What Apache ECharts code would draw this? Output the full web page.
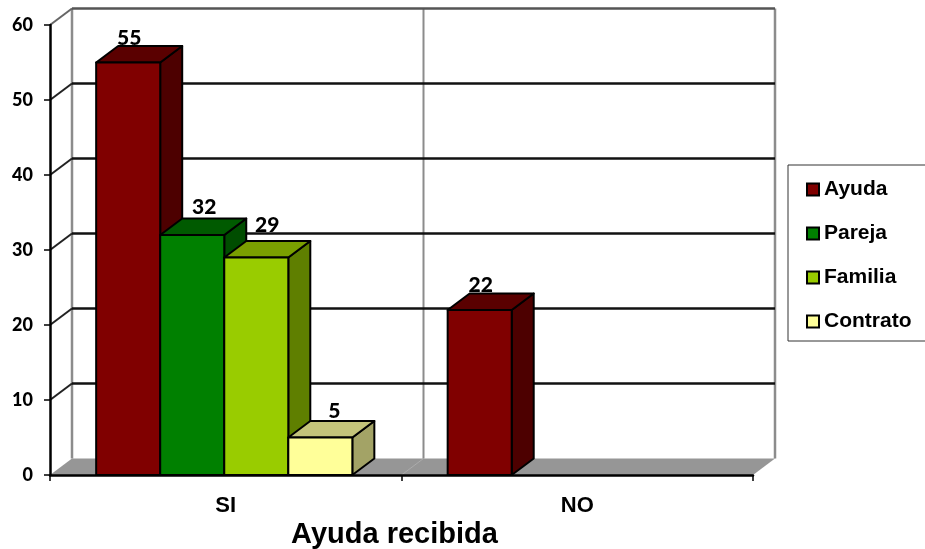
<!DOCTYPE html>
<html>
<head>
<meta charset="utf-8">
<style>html,body{margin:0;padding:0;background:#fff}#c{width:925px;height:549px}</style>
<script src="https://cdn.jsdelivr.net/npm/echarts@6/dist/echarts.min.js"></script>
</head>
<body>
<div id="c"></div>
<script>
const categories = ['SI', 'NO'];
const yTicks = [0, 10, 20, 30, 40, 50, 60];
const ayuda = [55, 22];
const pareja = [32, null];
const familia = [29, null];
const contrato = [5, null];
const axisTitle = 'Ayuda recibida';

const DX = 22, DY = -16.5;
const BAR_FRACTION = 0.1822;
const sans = '"Liberation Sans", Arial, sans-serif';
const labelFont = '900 21px Lato, sans-serif';

const chart = echarts.init(document.getElementById('c'), null, {renderer: 'canvas'});

function pointsOf(values) {
  return values.map((v, i) => v === null ? null : [i, v]).filter(Boolean);
}

function barSeries(name, values, index, front, top, side, labelDx, labelDy) {
  return {
    name, type: 'custom', coordinateSystem: 'cartesian2d', z: 3,
    itemStyle: {color: front},
    encode: {x: 0, y: 1},
    data: pointsOf(values),
    renderItem(params, api) {
      const band = api.size([1, 0])[0];
      const w = band * BAR_FRACTION;
      const p = api.coord([api.value(0), api.value(1)]);
      const b = api.coord([api.value(0), 0]);
      const x0 = p[0] + (index - 2) * w - 1.5, x1 = x0 + w;
      const yt = p[1], yb = b[1];
      const line = {stroke: '#000', lineWidth: 2, lineJoin: 'round'};
      const poly = (pts, fill) => ({type: 'polygon', shape: {points: pts}, style: {fill, ...line}});
      return {
        type: 'group',
        children: [
          poly([[x1, yb], [x1 + DX, yb + DY], [x1 + DX, yt + DY], [x1, yt]], side),
          poly([[x0, yt], [x0 + DX, yt + DY], [x1 + DX, yt + DY], [x1, yt]], top),
          poly([[x0, yt], [x1, yt], [x1, yb], [x0, yb]], front),
          {type: 'text', style: {
            text: String(api.value(1)), x: (x0 + x1) / 2 + labelDx, y: yt + DY + labelDy,
            align: 'center', verticalAlign: 'middle', font: labelFont, fill: '#000'
          }}
        ]
      };
    }
  };
}

const frameSeries = {
  name: 'marco', type: 'custom', coordinateSystem: 'cartesian2d', z: 1, silent: true,
  encode: {x: 0, y: 1},
  data: yTicks.map(t => [0, t]),
  renderItem(params, api) {
    const band = api.size([1, 0])[0];
    const v = api.value(1);
    const p = api.coord([0, v]);
    const left = p[0] - band / 2, mid = p[0] + band / 2, right = p[0] + 1.5 * band;
    const y = p[1];
    const seg = (x1, y1, x2, y2, stroke, lineWidth) =>
      ({type: 'line', shape: {x1, y1, x2, y2}, style: {stroke, lineWidth}});
    const kids = [];
    if (v === 0) {
      const topY = api.coord([0, yTicks[yTicks.length - 1]])[1] + DY;
      kids.push({type: 'polygon', shape: {points: [[left, y], [left + DX, y + DY], [right + DX, y + DY], [right, y]]},
        style: {fill: '#969696'}});
      kids.push(seg(mid, y, mid + DX, y + DY, '#ababab', 1));
      kids.push(seg(left + DX, topY, left + DX, y + DY, '#8c8c8c', 2.5));
      kids.push(seg(mid + DX, topY, mid + DX, y + DY, '#8c8c8c', 2));
      kids.push(seg(right + DX, topY, right + DX, y + DY, '#8c8c8c', 2.5));
    } else {
      const top = v === yTicks[yTicks.length - 1];
      kids.push(seg(left, y, left + DX, y + DY, top ? '#666' : '#222', 2));
      kids.push(seg(left + DX, y + DY, right + DX, y + DY, top ? '#555' : '#111', 2.5));
    }
    return {type: 'group', children: kids};
  }
};

chart.setOption({
  animation: false,
  backgroundColor: '#fff',
  title: {
    text: axisTitle, left: 389.5, top: 515, textAlign: 'center',
    textStyle: {fontFamily: sans, fontSize: 29, fontWeight: 'bold', color: '#000'}
  },
  legend: {
    data: ['Ayuda', 'Pareja', 'Familia', 'Contrato'],
    orient: 'vertical', left: 788, top: 165,
    padding: [14, 30, 9, 18],
    itemWidth: 12, itemHeight: 12, itemGap: 23,
    icon: 'rect',
    itemStyle: {borderColor: '#000', borderWidth: 2},
    borderColor: '#333', borderWidth: 1, backgroundColor: '#fff',
    textStyle: {fontFamily: sans, fontSize: 21, fontWeight: 'bold', color: '#000', padding: [0, 0, 0, 0]}
  },
  grid: {left: 50, right: 172, top: 25, bottom: 74, containLabel: false},
  xAxis: {
    type: 'category', data: categories, z: 5,
    axisLine: {show: true, lineStyle: {color: '#000', width: 2.5}},
    axisTick: {show: true, length: 6, lineStyle: {color: '#000', width: 1.5}},
    axisLabel: {fontFamily: sans, fontSize: 22, fontWeight: 'bold', color: '#000', margin: 20},
    splitLine: {show: false}
  },
  yAxis: {
    type: 'value', min: 0, max: 60, interval: 10, z: 5,
    axisLine: {show: true, lineStyle: {color: '#000', width: 2.5}},
    axisTick: {show: true, length: 6, lineStyle: {color: '#000', width: 1.5}},
    axisLabel: {fontFamily: 'Lato, sans-serif', fontSize: 18, fontWeight: 900, color: '#000', margin: 17, padding: [2, 0, 0, 0]},
    splitLine: {show: false}
  },
  series: [
    frameSeries,
    barSeries('Ayuda', ayuda, 0, '#800000', '#5a0000', '#4d0000', 1, -8),
    barSeries('Pareja', pareja, 1, '#008000', '#005a00', '#004d00', 12, -11),
    barSeries('Familia', familia, 2, '#99cc00', '#7a9f00', '#5f7f00', 11, -16),
    barSeries('Contrato', contrato, 3, '#ffff99', '#c4c47a', '#a3a366', 14, -10)
  ]
});
</script>
</body>
</html>
